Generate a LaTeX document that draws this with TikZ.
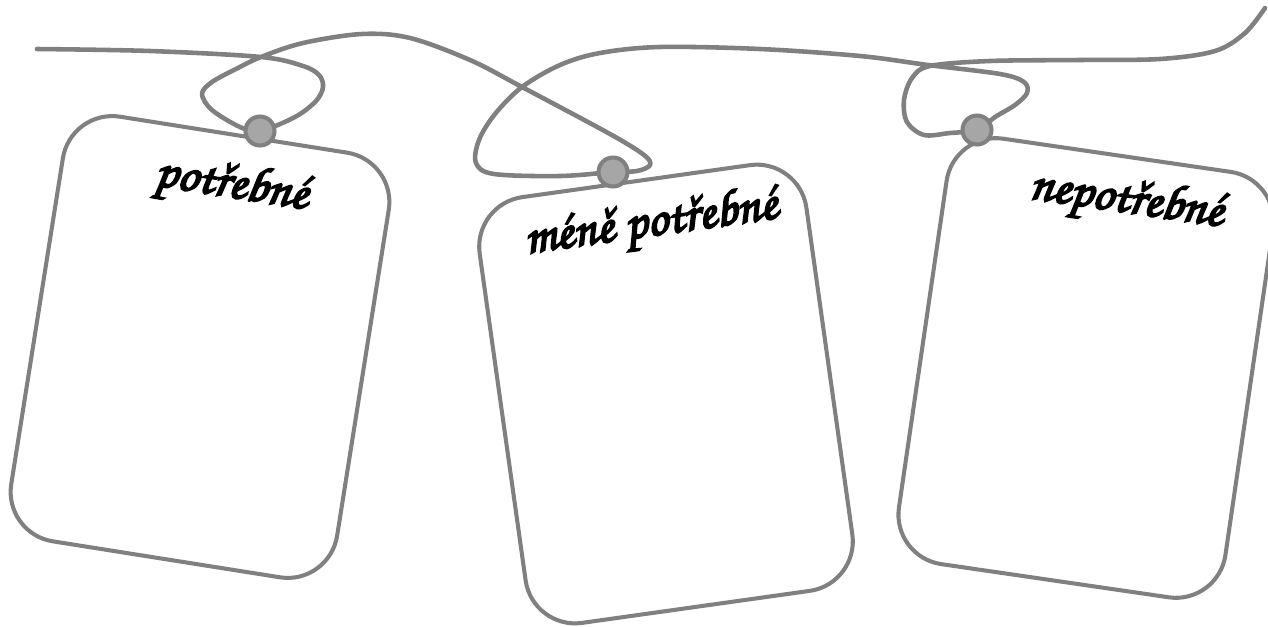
\documentclass[tikz,border=0pt]{standalone}
\usepackage[T1,TU]{fontenc}
\usepackage{xcolor}
\usepackage{tikz}
\usetikzlibrary{calc}
\definecolor{cordgray}{RGB}{128,128,128}
\definecolor{tackgray}{RGB}{166,166,166}
\newcommand{\handfont}{\fontencoding{T1}\fontfamily{pzc}\fontsize{29}{32}\selectfont}
% thicker script strokes (fill and stroke the glyphs)
\newcommand{\inkbold}{\special{pdf:literal direct 0 G 2 Tr 1.1 w}}

\begin{document}
\begin{tikzpicture}[
  x=0.02cm, y=-0.02cm,
  card/.style={rectangle, rounded corners=1cm, draw=cordgray, fill=white,
               line width=2.3pt, minimum width=6.6cm, minimum height=8.6cm,
               inner sep=0pt},
  lbl/.style={font=\handfont, text=black, inner sep=0pt,
              execute at begin node=\inkbold},
  tack/.style={circle, draw=cordgray, fill=tackgray, line width=2.3pt,
               minimum size=0.58cm, inner sep=0pt},
  cord/.style={draw=cordgray, line width=2.6pt, line cap=round, line join=round},
]
\useasboundingbox (0,0) rectangle (1268,626);

% ── cards ──
\begin{scope}[shift={(200,347)}, rotate=-9, transform shape]
  \node[card] (card1) at (0,0) {};
  \node[lbl]  (lbl1)  at (6,-163) {pot\v{r}ebn\'e};
\end{scope}
\begin{scope}[shift={(666,394)}, rotate=8, transform shape]
  \node[card] (card2) at (0,0) {};
  \node[lbl]  (lbl2)  at (9,-169) {m\'en\v{e} pot\v{r}ebn\'e};
\end{scope}
\begin{scope}[shift={(1086,368)}, rotate=-8.3, transform shape]
  \node[card] (card3) at (0,0) {};
  \node[lbl]  (lbl3)  at (16,-170) {nepot\v{r}ebn\'e};
\end{scope}

% ── string ──
\coordinate (t1) at (260,131);
\coordinate (t2) at (613,172);
\coordinate (t3) at (977,130);
\draw[cord] plot[smooth, tension=0.55] coordinates {
  (37,49) (150,51) (261,57) (303,66) (319,75) (323,87) (316,101) (295,117) (t1)
  (240,127) (212,110) (202,94) (212,82) (236,69) (261,57) (303,43) (362,34)
  (410,38) (470,60) (522,87) (610,134) (644,155) (650,165) (637,171) (t2)
  (560,176) (494,174) (476,163) (479,140) (495,114) (522,87) (560,65)
  (600,53) (660,47) (760,49) (860,56) (928,65) (1000,74) (1024,82)
  (1027,93) (1015,105) (995,117) (t3)
  (950,133) (924,135) (907,122) (904,100) (912,78) (930,66) (990,61)
  (1080,60) (1160,59) (1215,51) (1245,33) (1265,8)};

% ── tacks ──
\foreach \t in {1,2,3}
  \node[tack] (tack\t) at (t\t) {};

\end{tikzpicture}
\end{document}
